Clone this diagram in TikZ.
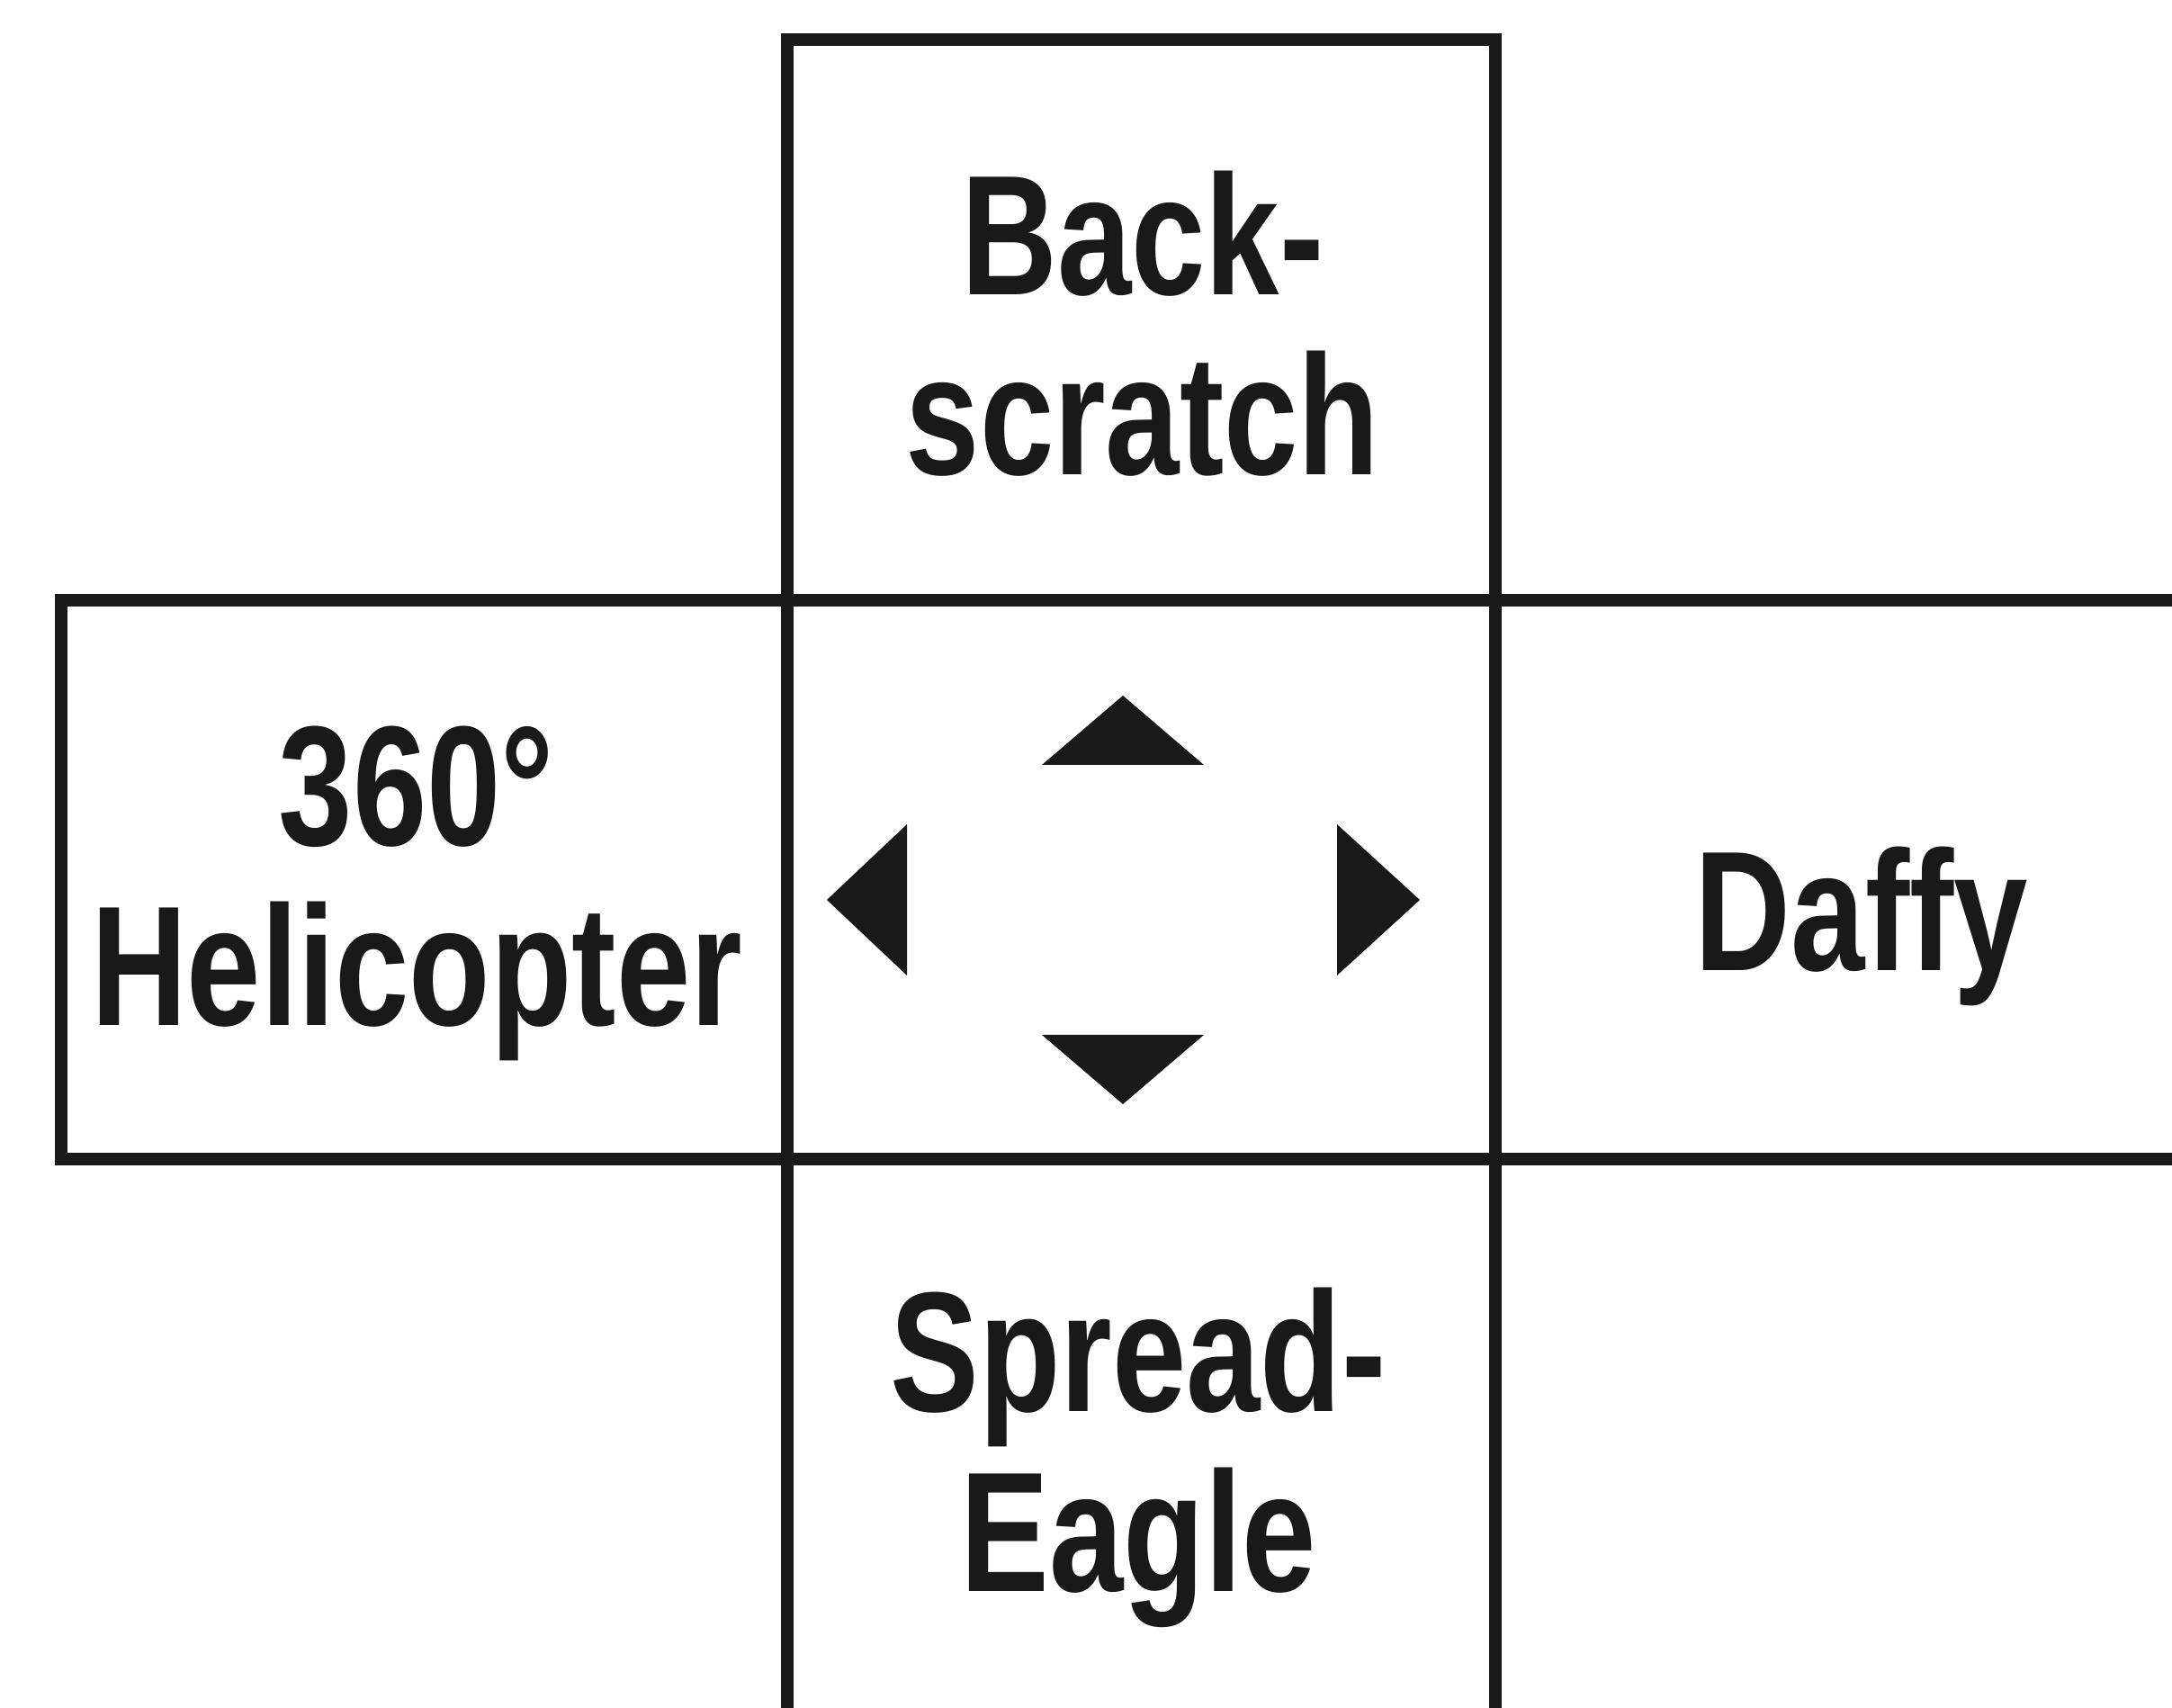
\documentclass[tikz,border=0pt]{standalone}
\usepackage{fontspec}
\setmainfont{Liberation Sans}[FakeStretch=0.78, Ligatures=NoCommon]
\usepackage{tikz}
\usetikzlibrary{positioning}

\begin{document}
\begin{tikzpicture}[
		box/.style = {draw=black!90, line width=1.35mm},
		move/.style = {align=center, inner sep=0pt, text=black!90, font=\fontsize{54pt}{57pt}\selectfont\bfseries},
		tri/.style = {fill=black!90}
		]
		
		\useasboundingbox (0,0) rectangle (24.14,18.97);
		
		% the cross of boxes
		\draw [box] (8.75,12.30) rectangle (16.62,18.53);
		\draw [box] (0.68,6.09) rectangle (8.75,12.30);
		\draw [box] (16.62,6.09) rectangle (24.76,12.30);
		\draw [box] (8.75,-0.6) rectangle (16.62,6.09);
		\draw [box] (8.75,6.09) rectangle (16.62,12.30);
		
		\node [move] (up) at (12.70,15.37) {Back-\\scratch};
		\node [move] (left) at (4.63,9.04) {360°\\Helicopter};
		\node [move] (right) at (20.69,8.68) {Daffy};
		\node [move] (down) at (12.65,2.77) {Spread-\\Eagle};
		
		% control pad
		\coordinate (pad) at (12.48,8.97);
		\begin{scope}[shift={(pad)}]
			\fill [tri] (-0.90,1.50) -- (0,2.27) -- (0.90,1.50) -- cycle;
			\fill [tri] (-0.90,-1.50) -- (0,-2.27) -- (0.90,-1.50) -- cycle;
			\fill [tri] (-2.40,-0.84) -- (-3.29,0) -- (-2.40,0.84) -- cycle;
			\fill [tri] (2.38,-0.84) -- (3.30,0) -- (2.38,0.84) -- cycle;
		\end{scope}
		
	\end{tikzpicture}
\end{document}
